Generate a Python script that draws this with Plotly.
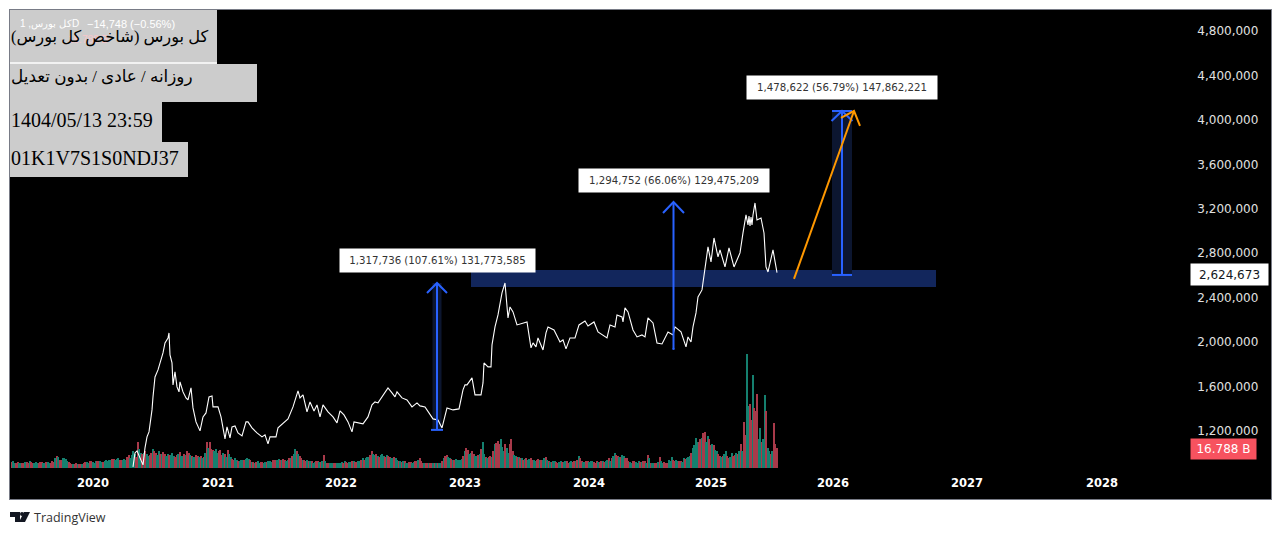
import plotly.graph_objects as go

# bar number on the time scale (1 bar = half a pixel on the chart) and index in thousands
price_bars = [246, 250, 254, 260, 266, 270, 274, 278, 284, 286, 290, 296, 302, 306, 310, 316, 318, 320, 324, 326,
              330, 334, 338, 340, 346, 352, 356, 362, 366, 372, 380, 386, 392, 398, 404, 406, 416, 422, 430, 434,
              440, 444, 450, 456, 464, 472, 476, 484, 494, 504, 510, 516, 520, 532, 536, 546, 556, 566, 576, 580,
              586, 594, 600, 608, 614, 620, 626, 636, 646, 654, 660, 668, 676, 684, 688, 706, 716, 724, 730, 736,
              744, 756, 764, 770, 774, 784, 794, 804, 814, 820, 830, 840, 846, 856, 864, 868, 874, 886, 898, 906,
              910, 914, 924, 930, 942, 946, 948, 956, 962, 964, 970, 976, 984, 990, 994, 996, 1000, 1006, 1014, 1026,
              1034, 1042, 1046, 1052, 1056, 1066, 1072, 1076, 1088, 1100, 1106, 1112, 1120, 1130, 1138, 1150, 1156, 1168, 1176, 1194,
              1200, 1210, 1214, 1224, 1226, 1230, 1236, 1246, 1254, 1264, 1270, 1276, 1286, 1294, 1304, 1316, 1326, 1330, 1342, 1352,
              1356, 1362, 1366, 1372, 1376, 1384, 1390, 1396, 1402, 1408, 1416, 1420, 1430, 1438, 1448, 1460, 1466, 1472, 1476, 1478,
              1480, 1482, 1484, 1486, 1490, 1494, 1502, 1508, 1512, 1516, 1526, 1530, 1534]
price_k = [876, 1002, 1020, 957, 894, 1047, 1146, 1191, 1389, 1506, 1686, 1749, 1839, 1902, 1992, 2037, 2082, 1884, 1812, 1614,
           1731, 1596, 1551, 1641, 1551, 1497, 1479, 1587, 1407, 1281, 1200, 1326, 1362, 1506, 1515, 1416, 1416, 1326, 1128, 1236,
           1137, 1236, 1245, 1182, 1155, 1281, 1281, 1227, 1182, 1146, 1164, 1083, 1146, 1146, 1227, 1272, 1308, 1416, 1560, 1497,
           1524, 1371, 1461, 1380, 1434, 1326, 1434, 1371, 1326, 1272, 1380, 1344, 1281, 1191, 1281, 1263, 1326, 1434, 1461, 1452,
           1506, 1587, 1542, 1506, 1551, 1497, 1479, 1416, 1452, 1425, 1416, 1344, 1308, 1299, 1227, 1299, 1407, 1389, 1398, 1569,
           1614, 1614, 1677, 1524, 1524, 1632, 1812, 1776, 1776, 1974, 2136, 2244, 2442, 2532, 2352, 2217, 2316, 2271, 2154, 2172,
           2181, 1947, 1992, 1956, 2037, 1929, 2082, 2136, 2109, 2001, 2019, 1938, 2037, 2037, 2154, 2190, 2145, 2181, 2091, 2037,
           2154, 2136, 2244, 2226, 2181, 2307, 2271, 2109, 2046, 2064, 2046, 2217, 2172, 1992, 1983, 2091, 2064, 2136, 2091, 1956,
           2046, 2001, 2136, 2262, 2406, 2469, 2676, 2856, 2721, 2937, 2766, 2829, 2676, 2847, 2676, 2802, 2982, 3144, 3054, 3135,
           3045, 3126, 3054, 3144, 3252, 3099, 3117, 2982, 2676, 2631, 2829, 2739, 2625]

# volume in billions, one value every 6 bars, ending on the last bar
volume_b = [5, 4.2, 5, 3.8, 4.6, 5, 5.5, 4.2, 5, 4.4,
            5, 4.4, 5.2, 4.2, 5, 10, 7, 8, 7.5, 5,
            3.5, 3.6, 3.4, 3.3, 4.5, 5, 5.5, 5, 6, 5.5,
            5.4, 5.8, 6, 7, 7.4, 7.6, 7, 6.5, 7, 11,
            11, 12, 22, 13, 12.5, 12, 11, 16, 13, 14.5,
            12, 11.5, 12, 11, 10.5, 11, 13.5, 10, 11, 13,
            10.5, 9.5, 10, 10, 9, 22, 22, 15, 16, 14,
            11, 12, 15, 9, 7, 6.5, 6, 7, 7.5, 7.5,
            5, 4.6, 5.5, 5, 4.4, 5, 6, 7, 6.5, 7.5,
            7, 6.5, 7, 8, 12, 14, 10, 7, 6, 6,
            5.5, 5, 6, 5, 11, 4.5, 4, 4.4, 4, 4.6,
            5, 5.5, 4.6, 5, 5.8, 5, 6, 8.5, 8, 9,
            14.5, 11, 10, 11, 10.5, 11, 9, 8, 8.5, 6,
            5, 5.5, 4.6, 5, 5, 6, 8.5, 4.6, 4, 4.2,
            4, 4.4, 4, 4.6, 8, 11, 8, 7, 7.5, 6.5,
            7.5, 14.5, 15.5, 13, 12, 10, 12, 22, 9.5, 9,
            9, 20, 23, 24, 14, 17, 20, 14, 10, 9,
            8, 7.5, 7, 8, 7, 6.5, 7, 7, 9, 5.5,
            5, 6, 4.6, 5.5, 5, 6, 5, 5, 5.5, 10,
            6, 5, 6, 5.6, 5, 5.8, 5, 6, 5.6, 8,
            8, 12.6, 10, 9, 10, 8, 5, 5.5, 5, 6,
            5, 5.6, 11, 4.5, 4, 4.4, 9, 4.2, 4, 7,
            9, 6, 5.5, 6, 8.5, 8, 10, 17, 25, 22,
            25, 30, 27, 19, 19, 14, 10, 10, 14, 8,
            12.5, 11, 11.5, 20, 39, 96, 54, 78, 48, 24,
            22, 61, 17, 12, 38, 16.788]
volume_dir = ("rgrgrrgrgr" "rggrrrrggr" "rrgrrgrggr" "ggggrgrggr" "ggrgggrgrg"
              "grgggrrggr" "rgrrrrrrgr" "rrrgrggggg" "gggrgrgrrg" "grgggrrgrr"
              "rgrrrrggrg" "ggrggrgggg" "rgggggrggr" "rrgrgrrrrg" "rrrggrgggg"
              "ggrgrgggrr" "ggrgggrrgg" "gggrgrggrr" "rgrggrgrgg" "rgrgrrrggr"
              "rgrrgrgrgg" "grrrgrrgrg" "grgrgggggr" "grgrrgrrgr" "grrrrgrgrg"
              "rggrrr")
# the sessions in between, 3 bars earlier than the values above
volume_mid_b = [6, 4.6, 4, 4.4, 5, 3.8, 4.8, 4.6, 4.2, 5,
                4.6, 5, 4, 5.6, 8, 9, 6.4, 8.4, 6, 4.2,
                3.2, 3.8, 3, 3.6, 5, 4.4, 6, 4.6, 5.6, 6,
                5, 6.6, 6.4, 7.8, 6.8, 8, 6.4, 7.4, 9, 8,
                14, 9, 16, 12, 14, 10, 13, 14, 11, 12,
                13.5, 10, 11, 12.5, 9.5, 12, 10, 12, 14, 11,
                9, 11, 9, 8.5, 13, 17, 16, 14, 13, 15,
                13, 9, 12, 7.5, 8, 6, 7, 6.5, 8, 6.5,
                5.4, 5, 4.4, 5.4, 4.8, 5.6, 5.4, 6.5, 7, 6.5,
                7.5, 6, 8, 10, 16, 12, 8, 6.5, 6.5, 5.5,
                4.6, 5.6, 5, 5.6, 6, 4, 4.6, 3.8, 4.6, 4.2,
                4.6, 5, 5.2, 5.6, 5.2, 6, 7, 6.6, 9.5, 11,
                12, 12, 9, 11.5, 9.5, 10, 8, 9, 6.5, 5.5,
                6, 4.6, 5.4, 4.4, 5.6, 7, 6, 4.2, 4.6, 3.8,
                4.4, 3.8, 4.2, 5.5, 10, 9, 7.6, 6.6, 7, 7,
                10, 17, 12, 14, 10, 11, 16, 12, 8, 10,
                14, 21, 20, 18, 20, 13, 24, 11, 9, 8,
                7, 8, 7.5, 6.5, 6, 7.5, 6.5, 8, 6.5, 5,
                5.6, 5, 5.2, 5, 5.6, 4.6, 5.6, 6, 7, 8,
                5.4, 5.6, 5, 6.2, 4.6, 5.4, 5.8, 5, 7, 6,
                10, 11, 9, 11, 8, 6, 4.6, 6, 4.6, 5.4,
                6, 4.6, 8, 4, 4.6, 5, 6, 5, 4.4, 6,
                7, 7, 6, 5, 7.5, 9.5, 13, 19, 22, 24,
                29, 22, 24, 20, 15, 12, 9, 12, 10, 9,
                10, 13, 14, 14, 28, 52, 40, 50, 62, 34,
                24, 48, 14, 14, 20]
volume_mid_dir = ("grgrgrrggr" "grgrggrggr" "grrgrgrgrg" "rggrggrgrg" "grgrrgrrgr"
                  "rgrgrggrrg" "grggggrggr" "gggrgrgrgr" "rrgrgggrgr" "rgrrggrrgg"
                  "grgggrgrgg" "rrgrrgrrgr" "grrgrrgrgg" "ggrgrgrgrr" "gggrrgrrgg"
                  "rrgrgrrggr" "rrrgrgrgrr" "rrgrgrrggg" "grgrgrgrrr" "grggrgrrgg"
                  "grggrrgrgr" "rgggrggrrg" "rgrgrgrggr" "rgrggrggrg" "rgggrgrrrg"
                  "grggr")

year_bars = [166, 416, 662, 910, 1158, 1402, 1646, 1914, 2184]
year_labels = ["2020", "2021", "2022", "2023", "2024", "2025", "2026", "2027", "2028"]
price_ticks = [1200, 1600, 2000, 2400, 2800, 3200, 3600, 4000, 4400, 4800]
price_labels = ["1,200,000", "1,600,000", "2,000,000", "2,400,000", "2,800,000",
                "3,200,000", "3,600,000", "4,000,000", "4,400,000", "4,800,000"]

# measure tools: x, from, to, cap half width, label
tool_bars = [854, 1327, 1664]
tool_from = [1209, 1938, 2604]
tool_to = [2532, 3261, 4080]
tool_labels = ["1,317,736 (107.61%) 131,773,585", "1,294,752 (66.06%) 129,475,209", "1,478,622 (56.79%) 147,862,221"]
tool_label_y = [2734, 3450, 4287]
tool_label_w = [191, 186, 186]

zone_bars = [922, 1852]
zone_k = [2496, 2649]

orange_bars = [1568, 1688]
orange_k = [2568, 4080]

header_lines = ["\u202bکل بورس (شاخص کل بورس)\u202c", "\u202bروزانه / عادی / بدون تعدیل\u202c", "1404/05/13 23:59", "01K1V7S1S0NDJ37"]
header_y = [37, 77, 120, 158]
header_size = [16.3, 16.8, 20, 20]

W, H = 1282, 535
LEFT, RIGHT, TOP, BOTTOM = 10, 1271, 10, 499
BLUE = "#2962ff"
ORANGE = "#ff9800"
UI_FONT = "DejaVu Sans"
TEAL = "#15806f"
RED = "#a83a4a"


def px(x):
    return (x - LEFT) / (RIGHT - LEFT)


def py(y):
    return (BOTTOM - y) / (BOTTOM - TOP)


fig = go.Figure()

vol_x = [1534 - 6 * (len(volume_b) - 1 - i) for i in range(len(volume_b))]
vol_mid_x = [x - 3 for x in vol_x[1:]]
fig.add_trace(go.Bar(x=vol_x + vol_mid_x, y=volume_b + volume_mid_b, yaxis="y", width=3.4,
                     marker=dict(color=[TEAL if d == "g" else RED for d in volume_dir + volume_mid_dir], line_width=0),
                     hoverinfo="skip"))
fig.add_trace(go.Scatter(x=price_bars, y=price_k, yaxis="y2", mode="lines",
                         line=dict(color="white", width=1.1), hoverinfo="skip"))

# blue measure arrows with caps and chevrons
cap_half = [12, 2, 20]
wing_x = [20, 21, 21]
wing_y = [90, 99, 90]
for i in range(3):
    xs = [tool_bars[i] - cap_half[i], tool_bars[i] + cap_half[i], None,
          tool_bars[i], tool_bars[i], None,
          tool_bars[i] - wing_x[i], tool_bars[i], tool_bars[i] + wing_x[i]]
    ys = [tool_from[i], tool_from[i], None,
          tool_from[i], tool_to[i], None,
          tool_to[i] - wing_y[i], tool_to[i], tool_to[i] - wing_y[i]]
    if i == 2:
        xs += [None, tool_bars[i] - cap_half[i], tool_bars[i] + cap_half[i]]
        ys += [None, tool_to[i], tool_to[i]]
    fig.add_trace(go.Scatter(x=xs, y=ys, yaxis="y2", mode="lines",
                             line=dict(color=BLUE, width=2), hoverinfo="skip"))

fig.add_trace(go.Scatter(x=orange_bars + [None, 1662, orange_bars[1], 1700],
                         y=orange_k + [None, 4017, orange_k[1], 3945],
                         yaxis="y2", mode="lines", line=dict(color=ORANGE, width=2), hoverinfo="skip"))

shapes = [dict(type="rect", xref="x", yref="y2", x0=zone_bars[0], x1=zone_bars[1], y0=zone_k[0], y1=zone_k[1],
               fillcolor="#12265c", line_width=0, layer="below"),
          dict(type="rect", xref="x", yref="y2", x0=tool_bars[0] - 9, x1=tool_bars[0] + 9, y0=tool_from[0], y1=tool_to[0],
               fillcolor="#0c1630", line_width=0, layer="below"),
          dict(type="rect", xref="x", yref="y2", x0=tool_bars[2] - 20, x1=tool_bars[2] + 20, y0=tool_from[2], y1=tool_to[2],
               fillcolor="#0c1630", line_width=0, layer="below")]

# grey info boxes pasted over the top left corner
boxes = [(217, 10, 62), (257, 64, 102), (162, 102, 142), (188, 142, 177)]
for right, y0, y1 in boxes:
    shapes.append(dict(type="rect", xref="paper", yref="paper", x0=px(10), x1=px(right), y0=py(y1), y1=py(y0),
                       fillcolor="#cccccc", line_width=0, layer="above"))
shapes.append(dict(type="rect", xref="paper", yref="paper", x0=px(10), x1=px(217), y0=py(64), y1=py(62),
                   fillcolor="#f2f2f2", line_width=0, layer="above"))

# TradingView logo
for pts in ([(10, 512), (20, 512), (20, 522), (15, 522), (15, 517), (10, 517)],
            [(24, 512), (30, 512), (25, 522), (19, 522)]):
    path = "M " + " L ".join(f"{px(a)} {py(b)}" for a, b in pts) + " Z"
    shapes.append(dict(type="path", xref="paper", yref="paper", path=path, fillcolor="#131722", line_width=0))
shapes.append(dict(type="circle", xref="paper", yref="paper", x0=px(20), x1=px(24), y0=py(516), y1=py(512),
                   fillcolor="#131722", line_width=0))

annotations = []
for i in range(3):
    annotations.append(dict(x=tool_bars[i], y=tool_label_y[i], xref="x", yref="y2", yanchor="middle", text=tool_labels[i],
                            showarrow=False, bgcolor="white", width=tool_label_w[i], height=19, borderpad=2,
                            font=dict(family=UI_FONT, size=10.2, color="#333333")))

# last value tags on the price scale
annotations.append(dict(x=px(1190), y=price_k[-1] + 0.673, xref="paper", yref="y2", xanchor="left", yanchor="middle", yshift=-1.5,
                        text="2,624,673", showarrow=False, bgcolor="white", width=73, height=17, borderpad=2,
                        font=dict(family=UI_FONT, size=12, color="#131722")))
annotations.append(dict(x=px(1190), y=volume_b[-1], xref="paper", yref="y", xanchor="left", yanchor="middle", yshift=-1,
                        text="16.788 B", showarrow=False, bgcolor="#f7525f", width=61, height=16, borderpad=2,
                        font=dict(family=UI_FONT, size=12, color="white")))

# legend row hidden behind the grey box
annotations.append(dict(x=px(18), y=py(24), xref="paper", yref="paper", xanchor="left", yanchor="middle", text="کل بورس, 1D",
                        showarrow=False, font=dict(family="Liberation Sans", size=10, color="white")))
annotations.append(dict(x=px(85), y=py(24), xref="paper", yref="paper", xanchor="left", yanchor="middle", text="−14,748 (−0.56%)",
                        showarrow=False, font=dict(family="Liberation Sans", size=11, color="white")))
annotations.append(dict(x=px(66), y=py(40), xref="paper", yref="paper", xanchor="left", yanchor="middle", text="16.788 B",
                        showarrow=False, font=dict(family="Liberation Sans", size=10, color="#f7c6ca")))

for text, y, size in zip(header_lines, header_y, header_size):
    annotations.append(dict(x=px(10), y=py(y), xref="paper", yref="paper", xanchor="left", yanchor="middle", text=text,
                            showarrow=False, borderpad=0, font=dict(family="Liberation Serif, DejaVu Sans", size=size, color="#000000")))

annotations.append(dict(x=px(33), y=py(517), xref="paper", yref="paper", xanchor="left", yanchor="middle", text="TradingView",
                        showarrow=False, borderpad=0, font=dict(family="Open Sans", size=12.5, color="#333333")))

fig.update_layout(
    width=W, height=H, margin=dict(l=LEFT, r=W - RIGHT, t=TOP, b=H - BOTTOM),
    paper_bgcolor="white", plot_bgcolor="black", showlegend=False, bargap=0,
    xaxis=dict(range=[0, 2522], tickvals=year_bars, ticktext=year_labels, showgrid=False, zeroline=False,
               ticks="inside", ticklen=9, tickcolor="rgba(0,0,0,0)", ticklabelposition="inside",
               tickfont=dict(family=UI_FONT, size=11.5, color="white", weight="bold"),
               showline=True, mirror=True, linecolor="#787b86", linewidth=1),
    yaxis=dict(range=[-26.04, 384.7], visible=False, showgrid=False, zeroline=False),
    yaxis2=dict(range=[587, 4989], overlaying="y", side="right", tickvals=price_ticks, ticktext=price_labels,
                showgrid=False, zeroline=False, ticks="inside", ticklen=12, tickcolor="rgba(0,0,0,0)",
                ticklabelposition="inside", tickfont=dict(family=UI_FONT, size=12, color="#e0e0e0"),
                showline=True, mirror=True, linecolor="#787b86", linewidth=1),
    shapes=shapes, annotations=annotations,
)

fig.write_html("out.html", config={"displayModeBar": False}, post_script="document.body.style.margin = '0';")
